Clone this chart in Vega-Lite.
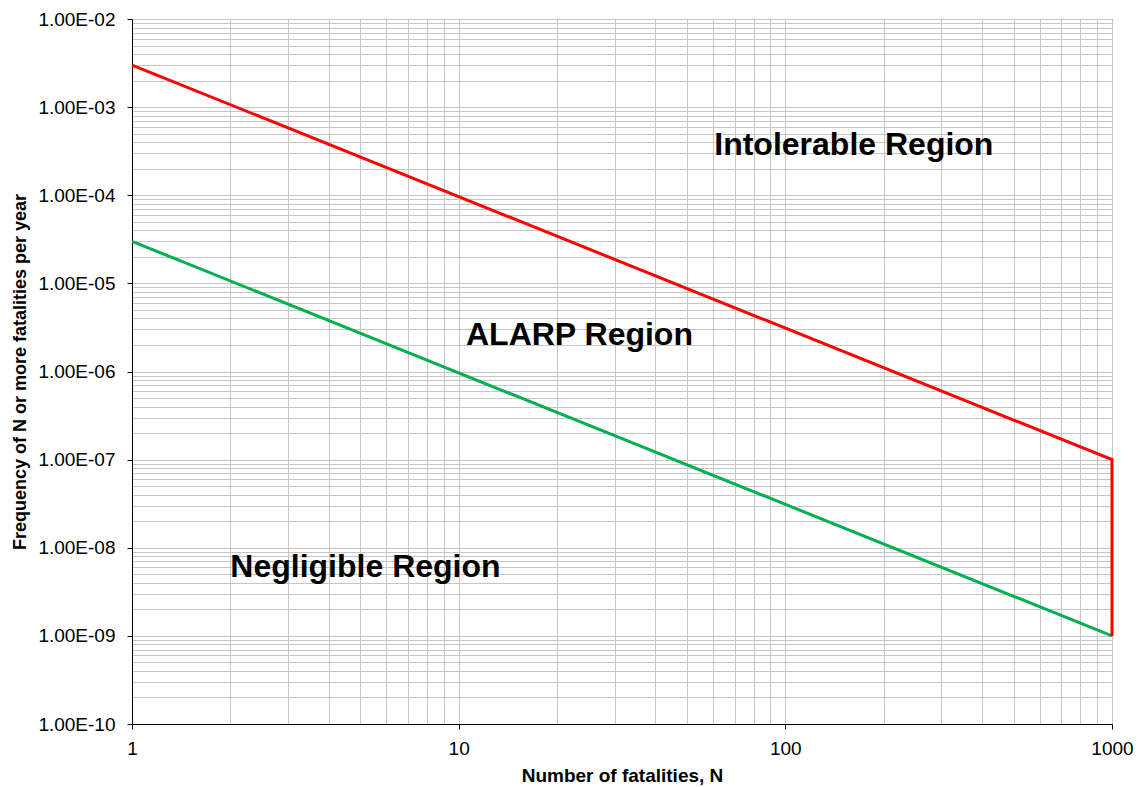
{
  "$schema": "https://vega.github.io/schema/vega-lite/v6.json",
  "autosize": {"type": "none"},
  "padding": {"left": 132, "top": 19, "right": 32, "bottom": 63},
  "width": 980,
  "height": 705,
  "background": "white",
  "config": {
    "font": "Liberation Sans",
    "view": {"stroke": "black", "strokeWidth": 1},
    "axis": {
      "labelFont": "Liberation Sans",
      "titleFont": "Liberation Sans",
      "labelColor": "black",
      "titleColor": "black",
      "domainColor": "black",
      "tickColor": "black",
      "gridColor": "#c6c6c6",
      "gridWidth": 1,
      "gridOpacity": 1
    }
  },
  "datasets": {
    "lines": [
      {"series": "Negligible", "N": 1, "F": 3e-5, "o": 1},
      {"series": "Negligible", "N": 1000, "F": 1e-9, "o": 2},
      {"series": "Intolerable", "N": 1, "F": 0.003, "o": 1},
      {"series": "Intolerable", "N": 1000, "F": 1e-7, "o": 2},
      {"series": "Intolerable", "N": 1000, "F": 1e-9, "o": 3}
    ],
    "labels": [
      {"text": "Intolerable Region", "N": 60.6, "F": 2.86e-4},
      {"text": "ALARP Region", "N": 10.53, "F": 2.0e-6},
      {"text": "Negligible Region", "N": 2.0, "F": 4.66e-9}
    ]
  },
  "layer": [
    {
      "data": {"name": "lines"},
      "transform": [{"filter": "datum.series == 'Negligible'"}],
      "mark": {"type": "line", "color": "#00b050", "strokeWidth": 3, "clip": false},
      "encoding": {
        "x": {
          "field": "N", "type": "quantitative",
          "scale": {"type": "log", "domain": [1, 1000], "nice": false},
          "axis": {
            "title": "Number of fatalities, N",
            "values": [1,2,3,4,5,6,7,8,9,10,20,30,40,50,60,70,80,90,100,200,300,400,500,600,700,800,900,1000],
            "labelExpr": "abs(log(datum.value)/LN10 - round(log(datum.value)/LN10)) < 1e-6 ? format(datum.value, 'd') : ''",
            "labelFontSize": 19,
            "labelPadding": 10,
            "labelOverlap": false,
            "labelFlush": false,
            "labelBound": false,
            "tickSize": 5,
            "tickOpacity": {"condition": {"test": "abs(log(datum.value)/LN10 - round(log(datum.value)/LN10)) < 1e-6", "value": 1}, "value": 0},
            "titleFontSize": 19,
            "titleFontWeight": "bold",
            "titleY": 57,
            "titleBaseline": "alphabetic"
          }
        },
        "y": {
          "field": "F", "type": "quantitative",
          "scale": {"type": "log", "domain": [1e-10, 1e-2], "nice": false},
          "axis": {
            "title": "Frequency of N or more fatalities per year",
            "values": [1e-10,2e-10,3e-10,4e-10,5e-10,6e-10,7e-10,8e-10,9e-10,1e-9,2e-9,3e-9,4e-9,5e-9,6e-9,7e-9,8e-9,9e-9,1e-8,2e-8,3e-8,4e-8,5e-8,6e-8,7e-8,8e-8,9e-8,1e-7,2e-7,3e-7,4e-7,5e-7,6e-7,7e-7,8e-7,9e-7,1e-6,2e-6,3e-6,4e-6,5e-6,6e-6,7e-6,8e-6,9e-6,1e-5,2e-5,3e-5,4e-5,5e-5,6e-5,7e-5,8e-5,9e-5,1e-4,2e-4,3e-4,4e-4,5e-4,6e-4,7e-4,8e-4,9e-4,1e-3,2e-3,3e-3,4e-3,5e-3,6e-3,7e-3,8e-3,9e-3,1e-2],
            "labelExpr": "abs(log(datum.value)/LN10 - round(log(datum.value)/LN10)) < 1e-6 ? ('1.00E-' + (-round(log(datum.value)/LN10) < 10 ? '0' : '') + (-round(log(datum.value)/LN10))) : ''",
            "labelFontSize": 19,
            "labelPadding": 12,
            "labelOverlap": false,
            "labelBound": false,
            "labelFlush": false,
            "tickSize": 5,
            "tickOpacity": {"condition": {"test": "abs(log(datum.value)/LN10 - round(log(datum.value)/LN10)) < 1e-6", "value": 1}, "value": 0},
            "titleFontSize": 18,
            "titleFontWeight": "bold",
            "titleX": -107,
            "titleY": 352.5,
            "titleAngle": -90,
            "titleAlign": "center",
            "titleBaseline": "alphabetic"
          }
        },
        "order": {"field": "o", "type": "quantitative"}
      }
    },
    {
      "data": {"name": "lines"},
      "transform": [{"filter": "datum.series == 'Intolerable'"}],
      "mark": {"type": "line", "color": "#ff0000", "strokeWidth": 3, "clip": false},
      "encoding": {
        "x": {"field": "N", "type": "quantitative"},
        "y": {"field": "F", "type": "quantitative"},
        "order": {"field": "o", "type": "quantitative"}
      }
    },
    {
      "data": {"name": "labels"},
      "mark": {"type": "text", "align": "left", "baseline": "alphabetic", "font": "Liberation Sans", "fontWeight": "bold", "fontSize": 32, "color": "black"},
      "encoding": {
        "x": {"field": "N", "type": "quantitative"},
        "y": {"field": "F", "type": "quantitative"},
        "text": {"field": "text", "type": "nominal"}
      }
    }
  ]
}
